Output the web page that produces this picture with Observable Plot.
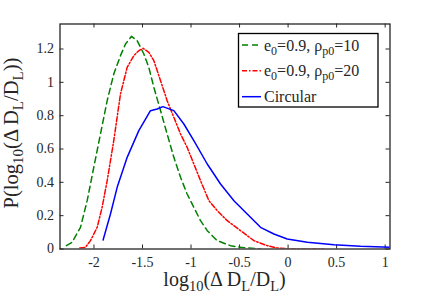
<!DOCTYPE html>
<html><head><meta charset="utf-8">
<script src="https://cdn.jsdelivr.net/npm/d3@7"></script>
<script src="https://cdn.jsdelivr.net/npm/@observablehq/plot@0.6"></script>
<style>
body{margin:0;background:#fff}
#chart svg text, #chart svg tspan { font-family: "Liberation Serif", "Times New Roman", serif !important; }
</style>
</head><body><div id="chart"></div>
<script>
// e0=0.9, rho_p0=10 (green dashed)
const greenX = [-2.284,-2.225,-2.139,-2.070,-2.002,-1.933,-1.864,-1.796,-1.727,-1.675,-1.613,-1.555,-1.486,-1.435,-1.383,-1.314,-1.246,-1.177,-1.108,-1.040,-0.971,-0.902,-0.833,-0.730,-0.593,-0.490,-0.284];
const greenY = [0.02,0.04,0.13,0.29,0.49,0.69,0.89,1.05,1.16,1.23,1.276,1.25,1.17,1.09,0.97,0.83,0.69,0.55,0.43,0.33,0.25,0.17,0.11,0.05,0.02,0.01,0.0];
// e0=0.9, rho_p0=20 (red dash-dot)
const redX = [-2.146,-2.088,-2.036,-1.967,-1.916,-1.864,-1.796,-1.727,-1.658,-1.589,-1.538,-1.493,-1.435,-1.383,-1.314,-1.246,-1.177,-1.108,-1.040,-0.971,-0.902,-0.816,-0.730,-0.627,-0.490,-0.352,-0.215,-0.112,0.026,0.369];
const redY = [0.006,0.01,0.05,0.13,0.25,0.41,0.65,0.93,1.09,1.16,1.19,1.204,1.18,1.13,1.01,0.89,0.79,0.69,0.61,0.51,0.41,0.29,0.23,0.17,0.11,0.05,0.02,0.006,0.0,0.0];
// Circular (blue solid)
const blueX = [-1.906,-1.830,-1.761,-1.658,-1.538,-1.418,-1.349,-1.290,-1.177,-1.074,-0.971,-0.833,-0.696,-0.558,-0.421,-0.284,-0.146,-0.009,0.198,0.473,0.747,1.057];
const blueY = [0.054,0.21,0.37,0.55,0.71,0.83,0.84,0.854,0.83,0.75,0.65,0.51,0.39,0.29,0.21,0.13,0.09,0.06,0.04,0.026,0.016,0.01];

const xTicks = [-2,-1.5,-1,-0.5,0,0.5,1];
const yTicks = [0,0.2,0.4,0.6,0.8,1,1.2];
const xDomain = [-2.35, 1.05];
const yDomain = [0, 1.35];

const toRows = (xs, ys, s) => xs.map((x, i) => ({x, y: ys[i], s}));
const green = toRows(greenX, greenY, "g");
const red = toRows(redX, redY, "r");
const blue = toRows(blueX, blueY, "b");

const W = 431, H = 305;
const mL = 59.5, mR = 41.5, mT = 23.5, mB = 56.5;
const fw = W - mL - mR, fh = H - mT - mB;
const axisColor = "#262626";
const serif = "Liberation Serif";
const tickLen = 4;

const chart = Plot.plot({
  width: W, height: H,
  marginLeft: mL, marginRight: mR, marginTop: mT, marginBottom: mB,
  style: {fontSize: "14px", color: axisColor, background: "#fff"},
  x: {domain: xDomain, ticks: xTicks, tickFormat: d => String(d)},
  y: {domain: yDomain, ticks: yTicks, tickFormat: d => String(d)},
  marks: [
    Plot.axisX({ticks: xTicks, tickFormat: d => String(d), tickSize: 0, tickPadding: 8.5, label: null, fontSize: 14}),
    Plot.axisY({ticks: yTicks, tickFormat: d => String(d), tickSize: 0, tickPadding: 6, label: null, fontSize: 14}),
    Plot.tickX(xTicks, {x: d => d, insetTop: fh - tickLen, stroke: axisColor, strokeWidth: 1}),
    Plot.tickX(xTicks, {x: d => d, insetBottom: fh - tickLen, stroke: axisColor, strokeWidth: 1}),
    Plot.tickY(yTicks, {y: d => d, insetRight: fw - tickLen, stroke: axisColor, strokeWidth: 1}),
    Plot.tickY(yTicks, {y: d => d, insetLeft: fw - tickLen, stroke: axisColor, strokeWidth: 1}),
    Plot.line(green, {x: "x", y: "y", stroke: "#008000", strokeWidth: 1.5, strokeDasharray: "6,4", clip: true}),
    Plot.line(red, {x: "x", y: "y", stroke: "#ff0000", strokeWidth: 1.5, strokeDasharray: "5,2,1.5,2", clip: true}),
    Plot.line(blue, {x: "x", y: "y", stroke: "#0000ff", strokeWidth: 1.5, clip: true}),
    Plot.frame({stroke: axisColor, strokeWidth: 1.3})
  ]
});
document.getElementById("chart").appendChild(chart);

const svg = d3.select(chart);

function richText(g, parts, size, subSize, subShift) {
  const t = g.append("text").attr("font-size", size).attr("fill", axisColor)
    .style("font-family", serif);
  let shifted = 0;
  for (const p of parts) {
    const ts = t.append("tspan").text(p.t);
    if (p.sub === true) {
      ts.attr("font-size", subSize).attr("dy", subShift - shifted);
      shifted = subShift;
    } else {
      ts.attr("dy", -shifted);
      shifted = 0;
    }
  }
  return t;
}

// x label
const xl = richText(svg.append("g"), [
  {t: "log"}, {t: "10", sub: true}, {t: "(Δ D"}, {t: "L", sub: true}, {t: "/D"}, {t: "L", sub: true}, {t: ")"}
], 20, 14.5, 5);
xl.attr("x", mL + fw / 2).attr("y", 286).attr("text-anchor", "middle");

// y label
const ylg = svg.append("g").attr("transform", `translate(18,${mT + fh / 2 - 3}) rotate(-90)`);
const yl = richText(ylg, [
  {t: "P(log"}, {t: "10", sub: true}, {t: "(Δ D"}, {t: "L", sub: true}, {t: "/D"}, {t: "L", sub: true}, {t: "))"}
], 20.5, 15, 5);
yl.attr("x", 0).attr("y", 0).attr("text-anchor", "middle");

// legend
const lg = svg.append("g");
lg.append("rect").attr("x", 238.5).attr("y", 33.5).attr("width", 139.5).attr("height", 73.5)
  .attr("fill", "#fff").attr("stroke", "#000").attr("stroke-width", 1.3);
const legendItems = [
  {parts: [{t: "e"}, {t: "0", sub: true}, {t: "=0.9, ρ"}, {t: "p0", sub: true}, {t: "=10"}], color: "#008000", dash: "6,4"},
  {parts: [{t: "e"}, {t: "0", sub: true}, {t: "=0.9, ρ"}, {t: "p0", sub: true}, {t: "=20"}], color: "#ff0000", dash: "5,2,1.5,2"},
  {parts: [{t: "Circular"}], color: "#0000ff", dash: null}
];
const rowsY = [45, 70.7, 96.7];
legendItems.forEach((it, i) => {
  const y = rowsY[i];
  const ln = lg.append("line").attr("x1", 242).attr("x2", 261).attr("y1", y).attr("y2", y)
    .attr("stroke", it.color).attr("stroke-width", 1.5);
  if (it.dash) ln.attr("stroke-dasharray", it.dash);
  const t = richText(lg, it.parts, 16, 12, 4);
  t.attr("x", 264).attr("y", y + 5.5).attr("text-anchor", "start");
});
</script>
</body></html>
